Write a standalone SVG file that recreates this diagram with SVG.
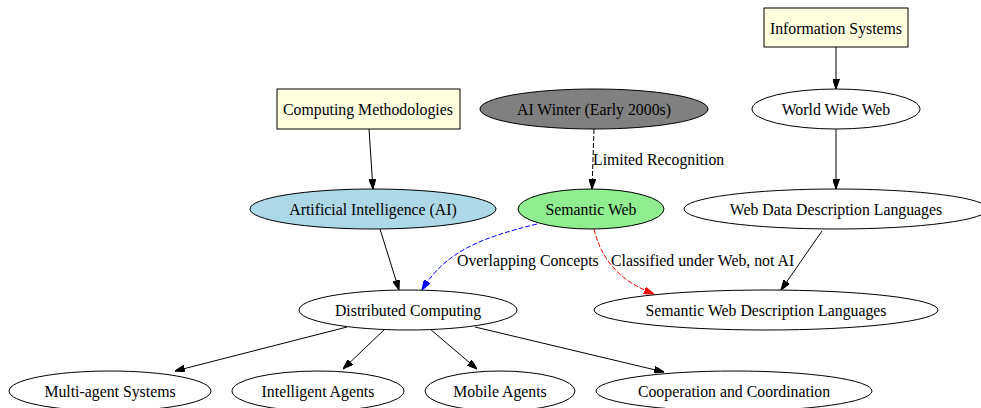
<svg xmlns="http://www.w3.org/2000/svg" width="981" height="408" viewBox="0 0 981 408">
<defs>
<style>
text{font-family:"Liberation Serif","Times New Roman",serif;font-size:15.8px;fill:#000}
.n text{text-anchor:middle}
.n ellipse,.n rect{stroke:#000;stroke-width:1}
.e path{fill:none;stroke:#000;stroke-width:1}
.lbl{text-anchor:start}
</style>
<marker id="ab" viewBox="0 0 10 7" refX="10" refY="3.5" markerWidth="10" markerHeight="7" markerUnits="userSpaceOnUse" orient="auto"><path d="M0,0L10,3.5L0,7z" fill="#000" stroke="#000"/></marker>
<marker id="abl" viewBox="0 0 10 7" refX="10" refY="3.5" markerWidth="10" markerHeight="7" markerUnits="userSpaceOnUse" orient="auto"><path d="M0,0L10,3.5L0,7z" fill="#00f" stroke="#00f"/></marker>
<marker id="ar" viewBox="0 0 10 7" refX="10" refY="3.5" markerWidth="10" markerHeight="7" markerUnits="userSpaceOnUse" orient="auto"><path d="M0,0L10,3.5L0,7z" fill="#f00" stroke="#f00"/></marker>
</defs>
<rect width="981" height="408" fill="#fff"/>
<g id="edges" class="e">
<path d="M836,47L836,89" marker-end="url(#ab)"/>
<path d="M836,129L836,189" marker-end="url(#ab)"/>
<path d="M369,129L373,189" marker-end="url(#ab)"/>
<path d="M594,129L592,189" stroke-dasharray="5,2" marker-end="url(#ab)"/>
<text class="lbl" x="593" y="165">Limited Recognition</text>
<path d="M380,229L399,290" marker-end="url(#ab)"/>
<path d="M537,224C480,238 445,252 422,290" style="stroke:#00f" stroke-dasharray="5,2" marker-end="url(#abl)"/>
<text class="lbl" x="457" y="266">Overlapping Concepts</text>
<path d="M594,229C602,262 622,282 654,294" style="stroke:#f00" stroke-dasharray="5,2" marker-end="url(#ar)"/>
<text class="lbl" x="611" y="266">Classified under Web, not AI</text>
<path d="M822,231L781,290" marker-end="url(#ab)"/>
<path d="M347,327L175,371" marker-end="url(#ab)"/>
<path d="M385,329L343,369" marker-end="url(#ab)"/>
<path d="M430,329L477,369" marker-end="url(#ab)"/>
<path d="M475,327L664,372" marker-end="url(#ab)"/>
</g>
<g id="info-systems" class="n"><rect x="764" y="8" width="144" height="39" fill="#ffffe0"/><text x="836" y="33.5">Information Systems</text></g>
<g id="computing-methodologies" class="n"><rect x="277" y="89" width="183" height="40" fill="#ffffe0"/><text x="368" y="114.5">Computing Methodologies</text></g>
<g id="ai-winter" class="n"><ellipse cx="594" cy="109" rx="114" ry="20" fill="#808080"/><text x="594" y="114.5">AI Winter (Early 2000s)</text></g>
<g id="www" class="n"><ellipse cx="836" cy="109" rx="84" ry="20" fill="#fff"/><text x="836" y="114.5">World Wide Web</text></g>
<g id="ai" class="n"><ellipse cx="373" cy="209" rx="123" ry="20" fill="#add8e6"/><text x="373" y="214.5">Artificial Intelligence (AI)</text></g>
<g id="semantic-web" class="n"><ellipse cx="591" cy="209" rx="73" ry="20" fill="#90ee90"/><text x="591" y="214.5">Semantic Web</text></g>
<g id="wddl" class="n"><ellipse cx="836" cy="209" rx="152" ry="20" fill="#fff"/><text x="836" y="214.5">Web Data Description Languages</text></g>
<g id="distributed" class="n"><ellipse cx="408" cy="310" rx="109" ry="20" fill="#fff"/><text x="408" y="315.5">Distributed Computing</text></g>
<g id="swdl" class="n"><ellipse cx="766" cy="310" rx="172" ry="20" fill="#fff"/><text x="766" y="315.5">Semantic Web Description Languages</text></g>
<g id="multi-agent" class="n"><ellipse cx="110" cy="391" rx="101" ry="20" fill="#fff"/><text x="110" y="396.5">Multi-agent Systems</text></g>
<g id="intelligent-agents" class="n"><ellipse cx="318" cy="391" rx="86" ry="20" fill="#fff"/><text x="318" y="396.5">Intelligent Agents</text></g>
<g id="mobile-agents" class="n"><ellipse cx="500" cy="391" rx="75" ry="20" fill="#fff"/><text x="500" y="396.5">Mobile Agents</text></g>
<g id="cooperation" class="n"><ellipse cx="734" cy="391" rx="138" ry="20" fill="#fff"/><text x="734" y="396.5">Cooperation and Coordination</text></g>
</svg>
